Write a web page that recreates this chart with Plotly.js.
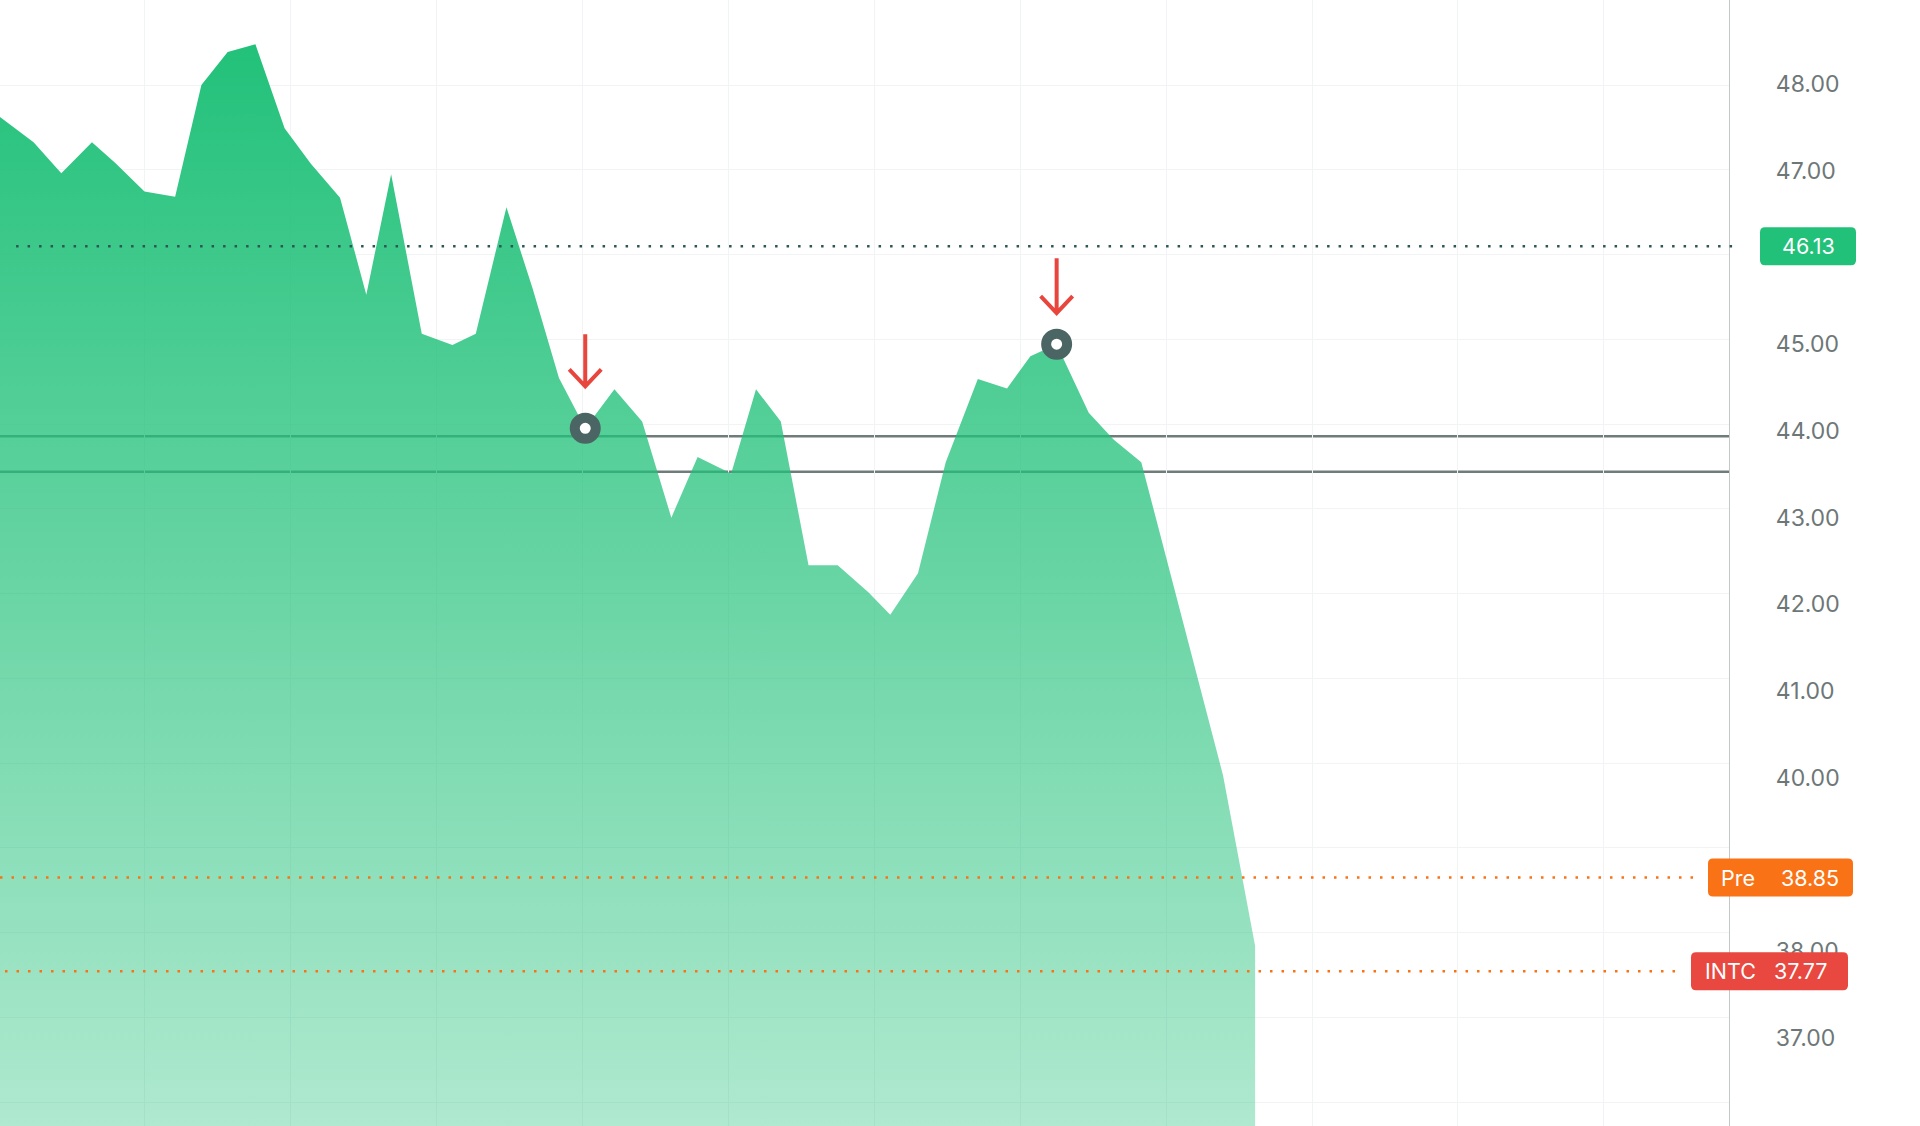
<!DOCTYPE html>
<html>
<head>
<meta charset="utf-8">
<script src="https://cdn.plot.ly/plotly-3.0.1.min.js"></script>
<style>
html, body { margin: 0; padding: 0; background: #ffffff; }
#chart { width: 1920px; height: 1126px; }
</style>
</head>
<body>
<div id="chart"></div>
<script>
// ---- data ----
// x: session time (one vertical gridline per unit), y: price in USD
const sessionX = [0.01, 0.24, 0.43, 0.64, 0.80, 1.00, 1.21, 1.39, 1.57, 1.76,
                  1.96, 2.14, 2.34, 2.52, 2.69, 2.90, 3.11, 3.27, 3.48, 3.66,
                  3.84, 4.02, 4.22, 4.41, 4.61, 4.79, 5.02, 5.19, 5.36, 5.55,
                  5.75, 5.96, 6.11, 6.30, 6.49, 6.71, 6.91, 7.07, 7.16, 7.25,
                  7.47, 7.64, 7.83, 8.39, 8.61];
const priceY = [47.62, 47.33, 46.97, 47.33, 47.09, 46.76, 46.70, 47.99, 48.37, 48.46,
                47.49, 47.08, 46.69, 45.57, 46.96, 45.12, 44.99, 45.12, 46.58, 45.64,
                44.61, 44.03, 44.48, 44.11, 43.00, 43.70, 43.51, 44.48, 44.11, 42.45,
                42.45, 42.14, 41.88, 42.36, 43.64, 44.60, 44.49, 44.86, 44.93, 45.00,
                44.21, 43.90, 43.64, 40.03, 38.06];

// sell signals (ring markers with red down arrows)
const signalX = [4.02, 7.25];
const signalY = [44.03, 45.00];

// horizontal support lines
const supportLevels = [43.94, 43.53];

// reference price levels
const prevCloseLevel = 46.13;
const preMarketLevel = 38.85;
const lastPriceLevel = 37.77;
const tickerName = 'INTC';
const preName = 'Pre';

// y tick labels
const yTickVals = [37, 38, 40, 41, 42, 43, 44, 45, 47, 48];
const yTickText = yTickVals.map(v => v.toFixed(2));

// ---- styling ----
const FONT = 'Inter, "Noto Sans", Roboto, sans-serif';
const GREEN = '#22c17a';
const ORANGE = '#f97316';
const RED = '#e8483f';
const TEAL = '#2e5654';
const GRID = '#f1f3f4';

const yRange = [35.985, 48.969];
const gridRange = [35.717, 49.003];
const xRange = [0.01, 11.857];
const topPrice = Math.max.apply(null, priceY);

function roundedRect(x0, x1, y0, y1, r) {
  return 'M' + (x0 + r) + ',' + y0 +
         ' L' + (x1 - r) + ',' + y0 +
         ' Q' + x1 + ',' + y0 + ' ' + x1 + ',' + (y0 + r) +
         ' L' + x1 + ',' + (y1 - r) +
         ' Q' + x1 + ',' + y1 + ' ' + (x1 - r) + ',' + y1 +
         ' L' + (x0 + r) + ',' + y1 +
         ' Q' + x0 + ',' + y1 + ' ' + x0 + ',' + (y1 - r) +
         ' L' + x0 + ',' + (y0 + r) +
         ' Q' + x0 + ',' + y0 + ' ' + (x0 + r) + ',' + y0 + ' Z';
}

const traces = [
  {
    type: 'scatter',
    x: sessionX,
    y: priceY,
    mode: 'lines',
    line: { width: 0, color: GREEN },
    fill: 'tozeroy',
    fillgradient: {
      type: 'vertical',
      start: yRange[0],
      stop: topPrice,
      colorscale: [[0, 'rgba(34,193,122,0.36)'], [1, 'rgba(34,193,122,1)']]
    },
    hoverinfo: 'skip',
    showlegend: false
  },
  {
    type: 'scatter',
    x: signalX,
    y: signalY,
    mode: 'markers',
    marker: { size: 21, color: '#ffffff', line: { width: 10, color: '#4b6464' } },
    hoverinfo: 'skip',
    showlegend: false,
    cliponaxis: false
  },
  {
    type: 'scatter',
    x: [null],
    y: [null],
    yaxis: 'y2',
    mode: 'lines',
    hoverinfo: 'skip',
    showlegend: false
  }
];

const shapes = [];

// support lines (below the translucent fill)
supportLevels.forEach(function (lv) {
  shapes.push({
    type: 'line', layer: 'below', xref: 'paper', yref: 'y',
    x0: 0, x1: 1, y0: lv, y1: lv,
    line: { color: '#6f7c7a', width: 2.5 }
  });
});

// dotted reference lines
shapes.push({
  type: 'line', layer: 'above', xref: 'paper', yref: 'y',
  x0: 0.0093, x1: 1.0069, y0: prevCloseLevel, y1: prevCloseLevel,
  line: { color: TEAL, width: 2.5, dash: '2.5px,9px' }
});
shapes.push({
  type: 'line', layer: 'above', xref: 'paper', yref: 'y',
  x0: 0, x1: 0.9844, y0: preMarketLevel, y1: preMarketLevel,
  line: { color: ORANGE, width: 2.5, dash: '2.5px,9px' }
});
shapes.push({
  type: 'line', layer: 'above', xref: 'paper', yref: 'y',
  x0: 0.0029, x1: 0.9734, y0: lastPriceLevel, y1: lastPriceLevel,
  line: { color: ORANGE, width: 2.5, dash: '2.5px,9px' }
});

// red down arrows above the signal markers
const arrowGeom = [
  { top: 94, tip: 42 },
  { top: 86, tip: 31 }
];
signalX.forEach(function (sx, i) {
  const g = arrowGeom[i];
  shapes.push({
    type: 'path', layer: 'above', xref: 'x', yref: 'y',
    xsizemode: 'pixel', ysizemode: 'pixel',
    xanchor: sx, yanchor: signalY[i],
    path: 'M0,' + g.top + ' L0,' + g.tip +
          ' M-16,' + (g.tip + 17) + ' L0,' + g.tip + ' L16,' + (g.tip + 17),
    line: { color: '#e8453c', width: 4 }
  });
});

// price badges
function badge(level, x0, x1, color) {
  shapes.push({
    type: 'path', layer: 'above', xref: 'paper', yref: 'y',
    xsizemode: 'pixel', ysizemode: 'pixel',
    xanchor: 1, yanchor: level,
    path: roundedRect(x0, x1, -19, 19, 5),
    fillcolor: color,
    line: { width: 0 }
  });
}
badge(prevCloseLevel, 31, 127, GREEN);
badge(preMarketLevel, -21, 124, ORANGE);
badge(lastPriceLevel, -38, 119, RED);

const badgeFont = { family: FONT, size: 21.5, color: '#ffffff' };
const annotations = [
  { xref: 'paper', yref: 'y', x: 1, y: prevCloseLevel, xshift: 79, xanchor: 'center',
    yanchor: 'middle', text: prevCloseLevel.toFixed(2), showarrow: false, font: badgeFont },
  { xref: 'paper', yref: 'y', x: 1, y: preMarketLevel, xshift: -10, xanchor: 'left',
    yanchor: 'middle', text: preName, showarrow: false, font: badgeFont },
  { xref: 'paper', yref: 'y', x: 1, y: preMarketLevel, xshift: 112, xanchor: 'right',
    yanchor: 'middle', text: preMarketLevel.toFixed(2), showarrow: false, font: badgeFont },
  { xref: 'paper', yref: 'y', x: 1, y: lastPriceLevel, xshift: -26, xanchor: 'left',
    yanchor: 'middle', text: tickerName, showarrow: false, font: badgeFont },
  { xref: 'paper', yref: 'y', x: 1, y: lastPriceLevel, xshift: 100, xanchor: 'right',
    yanchor: 'middle', text: lastPriceLevel.toFixed(2), showarrow: false, font: badgeFont }
];

const layout = {
  width: 1920,
  height: 1126,
  margin: { l: 0, r: 191, t: 0, b: 0, pad: 0 },
  paper_bgcolor: '#ffffff',
  plot_bgcolor: '#ffffff',
  showlegend: false,
  hovermode: false,
  font: { family: FONT, size: 22, color: '#6e7777' },
  xaxis: {
    range: xRange,
    showgrid: true, gridcolor: GRID, gridwidth: 1,
    dtick: 1, tick0: 0,
    showticklabels: false, ticks: '',
    zeroline: false, showline: false,
    fixedrange: true
  },
  yaxis: {
    range: yRange,
    side: 'right',
    showgrid: false,
    tickmode: 'array',
    tickvals: yTickVals,
    ticktext: yTickText,
    ticks: '',
    ticklabelstandoff: 41,
    tickfont: { family: FONT, size: 23, color: '#6e7777' },
    showline: true, linecolor: '#c3c7c7', linewidth: 1.2,
    zeroline: false,
    fixedrange: true
  },
  yaxis2: {
    overlaying: 'y',
    side: 'right',
    range: gridRange,
    showgrid: true, gridcolor: GRID, gridwidth: 1,
    dtick: 1, tick0: 0,
    showticklabels: false, ticks: '',
    showline: false, zeroline: false,
    fixedrange: true
  },
  shapes: shapes,
  annotations: annotations
};

Plotly.newPlot('chart', traces, layout, { displayModeBar: false, staticPlot: true });
</script>
</body>
</html>
